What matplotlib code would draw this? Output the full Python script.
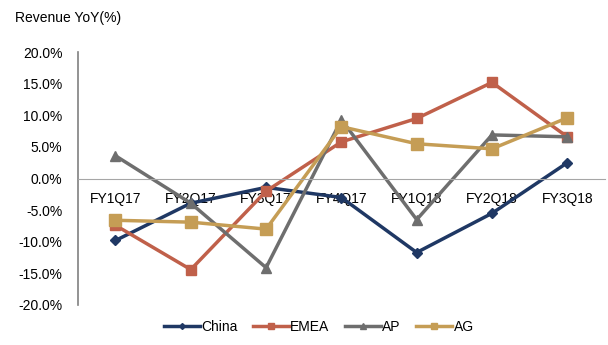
import matplotlib
matplotlib.use('Agg')
import matplotlib.pyplot as plt
from matplotlib.ticker import FuncFormatter

plt.rcParams['font.family'] = ['Liberation Sans', 'DejaVu Sans']

quarters = ['FY1Q17', 'FY2Q17', 'FY3Q17', 'FY4Q17', 'FY1Q18', 'FY2Q18', 'FY3Q18']
china = [-9.8, -3.9, -1.4, -3.0, -11.7, -5.5, 2.5]
emea = [-7.4, -14.4, -2.0, 5.8, 9.5, 15.2, 6.6]
ap = [3.6, -3.9, -14.1, 9.3, -6.5, 6.9, 6.6]
ag = [-6.6, -6.9, -8.0, 8.2, 5.5, 4.7, 9.6]

fig = plt.figure(figsize=(6.08, 3.45), dpi=100)
ax = fig.add_axes([0.128, 0.116, 0.867, 0.733])

x = range(len(quarters))
ax.plot(x, china, color='#1F3864', marker='D', markersize=5, linewidth=2.5, label='China')
ax.plot(x, emea, color='#C0604A', marker='s', markersize=7, linewidth=2.5, label='EMEA')
ax.plot(x, ap, color='#6E6E6E', marker='^', markersize=7, linewidth=2.5, label='AP')
ax.plot(x, ag, color='#C59D55', marker='s', markersize=8, linewidth=2.5, label='AG')

ax.set_xlim(-0.5, 6.5)
ax.set_ylim(-20, 20)
ax.set_yticks(range(-20, 21, 5))
ax.yaxis.set_major_formatter(FuncFormatter(lambda v, p: f'{v:.1f}%'))
ax.set_xticks(list(x))
ax.set_xticklabels(quarters)

for s in ['top', 'right']:
    ax.spines[s].set_visible(False)
ax.spines['bottom'].set_position(('data', 0))
ax.spines['bottom'].set_color('#A6A6A6')
ax.spines['left'].set_color('#808080')
ax.spines['left'].set_linewidth(1.2)
ax.tick_params(axis='both', length=0, labelsize=10)
ax.tick_params(axis='x', pad=10)
ax.tick_params(axis='y', pad=11)
ax.set_axisbelow(True)

fig.text(0.025, 0.935, 'Revenue YoY(%)', fontsize=10)
fig.legend(loc='lower center', bbox_to_anchor=(0.524, -0.005), ncol=4, frameon=False,
           fontsize=10, handlelength=2.6, columnspacing=1.1, handletextpad=0.1, markerscale=0.6)

fig.savefig('out.png', dpi=100)
